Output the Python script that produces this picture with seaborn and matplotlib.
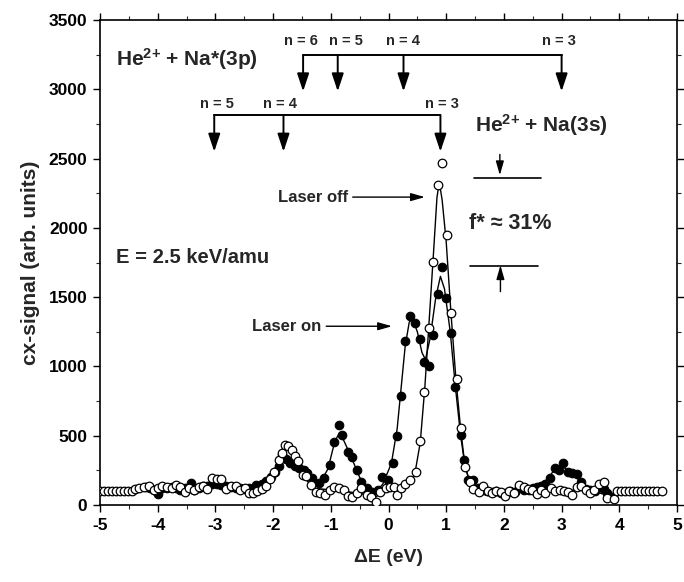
import numpy as np
import pandas as pd
import matplotlib
matplotlib.use("Agg")
import matplotlib.pyplot as plt
import seaborn as sns

# ---------------- data ----------------
off_x = [-5.00, -4.93, -4.86, -4.79, -4.72, -4.65, -4.58, -4.51, -4.45, -4.39,
         -4.32, -4.23, -4.15, -4.06, -3.99, -3.92, -3.84, -3.76, -3.69, -3.61,
         -3.53, -3.45, -3.37, -3.29, -3.21, -3.14, -3.06, -2.98, -2.90, -2.81,
         -2.73, -2.65, -2.58, -2.49, -2.42, -2.35, -2.28, -2.20, -2.12, -2.06,
         -1.98, -1.90, -1.84, -1.80, -1.74, -1.68, -1.62, -1.57, -1.49, -1.43,
         -1.35, -1.26, -1.19, -1.10, -1.02, -0.95, -0.86, -0.77, -0.70, -0.63,
         -0.54, -0.47, -0.38, -0.30, -0.22, -0.14, -0.05, 0.03, 0.09, 0.15,
         0.22, 0.29, 0.37, 0.47, 0.55, 0.62, 0.70, 0.77, 0.85, 0.93,
         1.02, 1.09, 1.18, 1.25, 1.33, 1.41, 1.47, 1.56, 1.64, 1.73,
         1.80, 1.87, 1.95, 2.02, 2.09, 2.18, 2.26, 2.34, 2.41, 2.49,
         2.57, 2.64, 2.72, 2.81, 2.88, 2.97, 3.04, 3.11, 3.18, 3.26,
         3.34, 3.42, 3.50, 3.57, 3.65, 3.74, 3.79, 3.90, 3.96, 4.03,
         4.10, 4.17, 4.24, 4.31, 4.38, 4.45, 4.52, 4.59, 4.66, 4.74]
off_y = [100, 100, 100, 100, 100, 100, 100, 100, 100, 115,
         122, 130, 140, 105, 122, 135, 130, 122, 145, 130,
         92, 122, 110, 130, 140, 115, 195, 185, 185, 115,
         140, 135, 110, 122, 86, 86, 100, 115, 140, 188,
         240, 325, 375, 430, 425, 400, 355, 320, 216, 210,
         144, 96, 84, 72, 108, 132, 120, 108, 65, 60,
         84, 120, 72, 60, 24, 96, 120, 127, 132, 72,
         120, 151, 180, 241, 465, 815, 1275, 1756, 2309, 2466,
         1948, 1383, 907, 553, 277, 163, 116, 92, 140, 104,
         87, 104, 92, 63, 104, 87, 147, 128, 116, 111,
         80, 111, 87, 120, 104, 111, 104, 96, 75, 128,
         140, 111, 87, 111, 152, 168, 48, 40, 100, 100,
         100, 100, 100, 100, 100, 100, 100, 100, 100, 100]

on_x = [-4.20, -4.13, -4.06, -3.99, -3.92, -3.84, -3.76, -3.69, -3.61, -3.53,
        -3.43, -3.37, -3.29, -3.21, -3.14, -3.06, -2.98, -2.90, -2.81, -2.73,
        -2.65, -2.58, -2.49, -2.42, -2.35, -2.29, -2.20, -2.12, -2.04, -1.96,
        -1.90, -1.84, -1.77, -1.70, -1.62, -1.55, -1.47, -1.41, -1.33, -1.21,
        -1.12, -1.02, -0.95, -0.86, -0.80, -0.71, -0.63, -0.54, -0.47, -0.38,
        -0.28, -0.19, -0.11, -0.01, 0.07, 0.15, 0.22, 0.29, 0.38, 0.46,
        0.54, 0.61, 0.70, 0.77, 0.85, 0.92, 1.00, 1.08, 1.16, 1.25,
        1.31, 1.37, 1.47, 1.55, 1.63, 1.71, 1.79, 1.87, 1.95, 2.03,
        2.11, 2.19, 2.27, 2.35, 2.43, 2.50, 2.57, 2.64, 2.72, 2.80,
        2.88, 2.95, 3.02, 3.11, 3.18, 3.26, 3.34, 3.42, 3.50, 3.58,
        3.66, 3.73, 3.79, 3.87]
on_y = [130, 120, 110, 80, 120, 125, 130, 120, 110, 125,
        160, 105, 125, 135, 140, 150, 150, 145, 140, 130,
        120, 125, 115, 125, 110, 145, 150, 170, 200, 235,
        280, 360, 335, 300, 280, 265, 255, 230, 192, 156,
        192, 289, 457, 577, 505, 385, 349, 253, 168, 120,
        96, 108, 204, 180, 305, 498, 787, 1183, 1366, 1311,
        1198, 1030, 1003, 1227, 1523, 1720, 1491, 1244, 854, 505,
        325, 180, 178, 120, 110, 100, 95, 100, 90, 85,
        100, 95, 120, 110, 105, 120, 130, 140, 150, 192,
        264, 250, 300, 240, 233, 221, 166, 118, 110, 100,
        130, 118, 89, 60]

# smooth fit curves (knots)
fit_off_x = [-5.0, -4.4, -3.2, -3.0, -2.8, -2.3, -2.1, -2.0, -1.92, -1.85, -1.78, -1.7,
             -1.6, -1.5, -1.4, -1.3, -1.0, -0.6, -0.22, 0.0, 0.3, 0.45, 0.55, 0.63,
             0.70, 0.78, 0.84, 0.88, 0.93, 1.00, 1.08, 1.17, 1.25, 1.32, 1.40, 1.50,
             2.5, 3.5, 3.85, 4.0, 4.75]
fit_off_y = [100, 110, 130, 180, 130, 100, 150, 220, 320, 400, 420, 390,
             330, 240, 170, 120, 110, 90, 60, 110, 140, 210, 450, 850,
             1300, 1820, 2220, 2330, 2200, 1900, 1400, 900, 550, 300, 170, 110,
             100, 110, 60, 100, 100]
fit_on_x = [-4.2, -3.0, -2.3, -2.1, -1.95, -1.82, -1.7, -1.55, -1.4, -1.2, -1.05, -0.93,
            -0.85, -0.78, -0.65, -0.5, -0.35, -0.25, -0.1, 0.05, 0.15, 0.22, 0.29, 0.36,
            0.42, 0.50, 0.58, 0.64, 0.72, 0.82, 0.90, 0.97, 1.07, 1.16, 1.25, 1.32,
            1.40, 1.50, 2.5, 2.65, 2.78, 2.90, 3.00, 3.12, 3.25, 3.40, 3.60, 3.87]
fit_on_y = [130, 145, 130, 170, 250, 370, 320, 270, 210, 150, 260, 460,
            520, 470, 350, 200, 110, 80, 150, 300, 550, 850, 1150, 1320,
            1340, 1250, 1100, 1050, 1200, 1500, 1650, 1560, 1250, 850, 500, 300,
            170, 110, 100, 140, 200, 270, 285, 245, 200, 140, 110, 70]

# transition energies (eV)
levels_3p = [-1.48, -0.88, 0.26, 3.00]
labels_3p = ["n = 6", "n = 5", "n = 4", "n = 3"]
label_x_3p = [-1.52, -0.74, 0.25, 2.95]
levels_3s = [-3.02, -1.82, 0.90]
labels_3s = ["n = 5", "n = 4", "n = 3"]
label_x_3s = [-2.98, -1.88, 0.93]

xticks = [-5, -4, -3, -2, -1, 0, 1, 2, 3, 4, 5]
yticks = [0, 500, 1000, 1500, 2000, 2500, 3000, 3500]

# ---------------- plot ----------------
sns.set_theme(style="ticks")
plt.rcParams['font.family'] = ['Liberation Sans', 'DejaVu Sans']
plt.rcParams['font.weight'] = 'bold'
plt.rcParams['mathtext.fontset'] = 'custom'
plt.rcParams['mathtext.rm'] = 'Liberation Sans:bold'
plt.rcParams['mathtext.bf'] = 'Liberation Sans:bold'
plt.rcParams['mathtext.default'] = 'bf'

fig = plt.figure(figsize=(6.84, 5.82), dpi=100)
ax = fig.add_axes([100/684, 77/582, 577/684, 485/582])

df_off = pd.DataFrame({"x": off_x, "y": off_y})
df_on = pd.DataFrame({"x": on_x, "y": on_y})
df_fit_off = pd.DataFrame({"x": fit_off_x, "y": fit_off_y})
df_fit_on = pd.DataFrame({"x": fit_on_x, "y": fit_on_y})

sns.lineplot(data=df_fit_on, x="x", y="y", color="black", lw=1.0, sort=True, ax=ax, zorder=2)
sns.lineplot(data=df_fit_off, x="x", y="y", color="black", lw=1.0, sort=True, ax=ax, zorder=2)
sns.scatterplot(data=df_on, x="x", y="y", marker="o", s=38, color="black",
                edgecolor="black", linewidth=0.8, ax=ax, zorder=3)
sns.scatterplot(data=df_off, x="x", y="y", marker="o", s=38, facecolor="white",
                edgecolor="black", linewidth=0.9, ax=ax, zorder=4)

ax.set_xlim(-5, 5)
ax.set_ylim(0, 3500)
ax.set_xticks(xticks)
ax.set_xticklabels([str(t) for t in xticks])
ax.set_yticks(yticks)
ax.set_yticklabels([str(t) for t in yticks])
ax.set_xticks(np.arange(-4.5, 5, 1.0), minor=True)
ax.set_yticks(np.arange(250, 3500, 500), minor=True)
ax.tick_params(which="major", direction="out", length=5, width=1.0, colors="black",
               labelsize=12.5, top=True, right=True, pad=4)
ax.tick_params(which="minor", direction="out", length=3, width=0.8, top=True, right=True)
for lab in ax.get_xticklabels() + ax.get_yticklabels():
    lab.set_fontweight("bold")
for sp in ax.spines.values():
    sp.set_visible(True)
    sp.set_linewidth(1.2)
    sp.set_color("black")

ax.set_xlabel("ΔE (eV)", fontsize=14, fontweight="bold", labelpad=12)
ax.set_ylabel("cx-signal (arb. units)", fontsize=15, fontweight="bold", labelpad=6)

akw = dict(arrowstyle="-|>,head_length=0.9,head_width=0.3", lw=1.4, color="black",
           shrinkA=0, shrinkB=0)

# Na*(3p) bracket
y_br1, y_tip1 = 3247, 2985
ax.plot([min(levels_3p), max(levels_3p)], [y_br1, y_br1], color="black", lw=1.4)
for e in levels_3p:
    ax.annotate("", xy=(e, y_tip1), xytext=(e, y_br1), arrowprops=akw)
for lx, lab in zip(label_x_3p, labels_3p):
    ax.text(lx, 3345, lab, ha="center", va="center", fontsize=10.5, fontweight="bold")

# Na(3s) bracket
y_br2, y_tip2 = 2815, 2550
ax.plot([min(levels_3s), max(levels_3s)], [y_br2, y_br2], color="black", lw=1.4)
for e in levels_3s:
    ax.annotate("", xy=(e, y_tip2), xytext=(e, y_br2), arrowprops=akw)
for lx, lab in zip(label_x_3s, labels_3s):
    ax.text(lx, 2895, lab, ha="center", va="center", fontsize=10.5, fontweight="bold")

ax.text(-4.72, 3215, r"He$^{2{+}}$ + Na*(3p)", fontsize=15, fontweight="bold",
        ha="left", va="center")
ax.text(1.5, 2745, r"He$^{2{+}}$ + Na(3s)", fontsize=15, fontweight="bold",
        ha="left", va="center")
ax.text(-4.72, 1785, "E = 2.5 keV/amu", fontsize=14.5, fontweight="bold",
        ha="left", va="center")
ax.text(1.39, 2035, "f* ≈ 31%", fontsize=15.5, fontweight="bold", ha="left", va="center")

# f* markers
ax.plot([1.49, 2.65], [2358, 2358], color="black", lw=1.2)
ax.plot([1.42, 2.59], [1725, 1725], color="black", lw=1.2)
ak2 = dict(arrowstyle="-|>,head_length=0.7,head_width=0.2", lw=1.0, color="black",
           shrinkA=0, shrinkB=0)
ax.annotate("", xy=(1.93, 2380), xytext=(1.93, 2530), arrowprops=ak2)
ax.annotate("", xy=(1.94, 1730), xytext=(1.94, 1540), arrowprops=ak2)

# Laser labels
ax.text(-0.70, 2222, "Laser off", fontsize=12, fontweight="bold", ha="right", va="center")
ax.annotate("", xy=(0.63, 2222), xytext=(-0.62, 2222), arrowprops=ak2)
ax.text(-1.17, 1290, "Laser on", fontsize=12, fontweight="bold", ha="right", va="center")
ax.annotate("", xy=(0.06, 1290), xytext=(-1.08, 1290), arrowprops=ak2)

fig.savefig("out.png", dpi=100)
